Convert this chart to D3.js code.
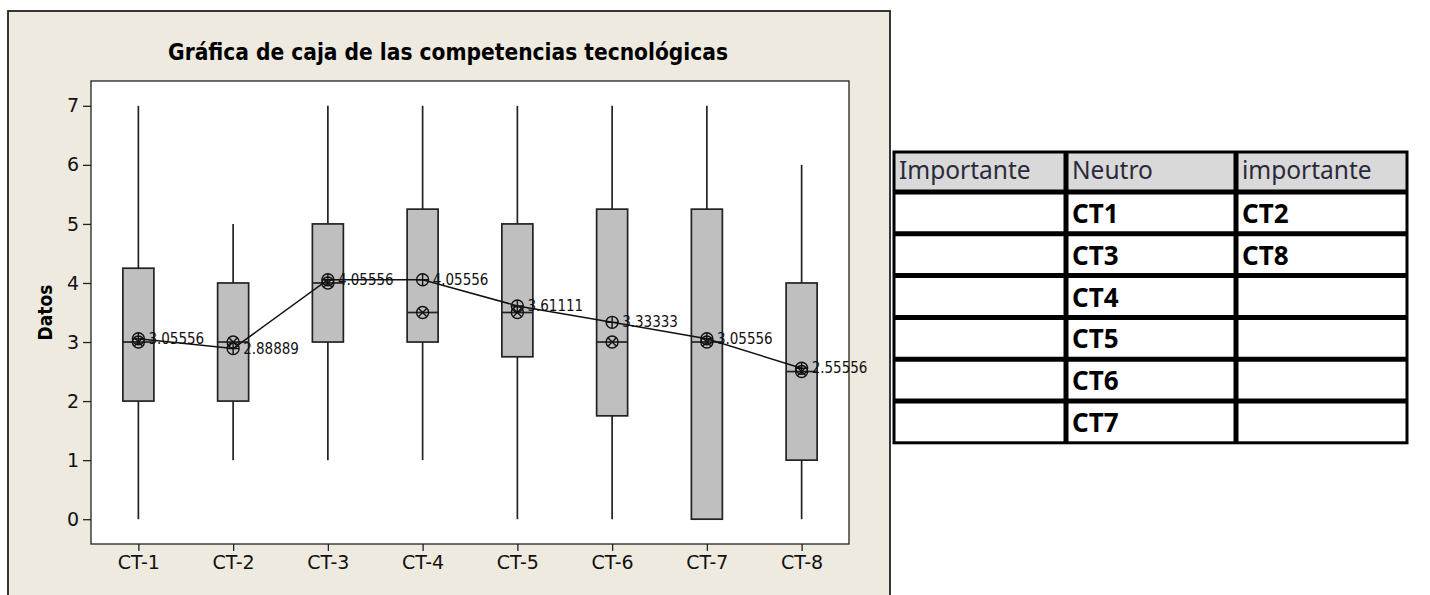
<!DOCTYPE html>
<html>
<head>
<meta charset="utf-8">
<script src="https://cdn.jsdelivr.net/npm/d3@7"></script>
<style>
  html, body { margin: 0; padding: 0; background: #ffffff; }
  svg { display: block; }
</style>
</head>
<body>
<svg id="chart" width="1430" height="595"></svg>
<script>
// Box plot data per technological competency
const categories = ["CT-1", "CT-2", "CT-3", "CT-4", "CT-5", "CT-6", "CT-7", "CT-8"];
const minVals    = [0, 1, 1, 1, 0, 0, 0, 0];
const q1Vals     = [2, 2, 3, 3, 2.75, 1.75, 0, 1];
const medianVals = [3, 3, 4, 3.5, 3.5, 3, 3, 2.5];
const q3Vals     = [4.25, 4, 5, 5.25, 5, 5.25, 5.25, 4];
const maxVals    = [7, 5, 7, 7, 7, 7, 7, 6];
const meanVals   = [3.05556, 2.88889, 4.05556, 4.05556, 3.61111, 3.33333, 3.05556, 2.55556];
const meanLabels = ["3.05556", "2.88889", "4.05556", "4.05556", "3.61111", "3.33333", "3.05556", "2.55556"];
const yTicks     = [0, 1, 2, 3, 4, 5, 6, 7];

// Classification table
const tableHeaders = ["Importante", "Neutro", "importante"];
const colImportante = ["", "", "", "", "", ""];
const colNeutro     = ["CT1", "CT3", "CT4", "CT5", "CT6", "CT7"];
const colImportante2 = ["CT2", "CT8", "", "", "", ""];

const svg = d3.select("#chart");
const chartFont = "'DejaVu Sans', Verdana, sans-serif";
const condFont = "'DejaVu Sans Condensed', 'DejaVu Sans', sans-serif";

// Outer frame
svg.append("rect")
  .attr("x", 8).attr("y", 11).attr("width", 882).attr("height", 600)
  .attr("fill", "#EEEAE0").attr("stroke", "#222").attr("stroke-width", 1.8);

const plot = { left: 91, top: 81, right: 849, bottom: 544 };

svg.append("text")
  .attr("x", 448).attr("y", 60)
  .attr("text-anchor", "middle")
  .attr("font-family", condFont).attr("font-weight", "bold").attr("font-size", 22.5)
  .attr("fill", "#000")
  .text("Gráfica de caja de las competencias tecnológicas");

svg.append("rect")
  .attr("x", plot.left).attr("y", plot.top)
  .attr("width", plot.right - plot.left).attr("height", plot.bottom - plot.top)
  .attr("fill", "#ffffff").attr("stroke", "#222").attr("stroke-width", 1.3);

const x = d3.scalePoint().domain(categories).range([plot.left, plot.right]).padding(0.5);
const y = d3.scaleLinear().domain([-0.42, 7.42]).range([plot.bottom, plot.top]);

// Axes
const yAxis = svg.append("g")
  .attr("transform", `translate(${plot.left},0)`)
  .call(d3.axisLeft(y).tickValues(yTicks).tickSize(8).tickPadding(4).tickFormat(d3.format("d")));
yAxis.select(".domain").remove();
yAxis.selectAll("text").attr("font-family", chartFont).attr("font-size", 19).attr("fill", "#111");
yAxis.selectAll("line").attr("stroke", "#222").attr("stroke-width", 1.3);

const xAxis = svg.append("g")
  .attr("transform", `translate(0,${plot.bottom})`)
  .call(d3.axisBottom(x).tickSize(7).tickPadding(5));
xAxis.select(".domain").remove();
xAxis.selectAll("text").attr("font-family", chartFont).attr("font-size", 19).attr("fill", "#111");
xAxis.selectAll("line").attr("stroke", "#222").attr("stroke-width", 1.3);

svg.append("text")
  .attr("transform", `translate(52,${(plot.top + plot.bottom) / 2}) rotate(-90)`)
  .attr("text-anchor", "middle")
  .attr("font-family", condFont).attr("font-weight", "bold").attr("font-size", 19)
  .text("Datos");

// Boxes
const boxW = 31;
const boxes = categories.map((c, i) => ({
  cat: c, min: minVals[i], q1: q1Vals[i], med: medianVals[i], q3: q3Vals[i], max: maxVals[i],
  mean: meanVals[i], label: meanLabels[i]
}));

const g = svg.append("g");
const sw = 1.7;
boxes.forEach(b => {
  const cx = x(b.cat);
  g.append("line").attr("x1", cx).attr("x2", cx).attr("y1", y(b.q3)).attr("y2", y(b.max))
    .attr("stroke", "#222").attr("stroke-width", sw);
  g.append("line").attr("x1", cx).attr("x2", cx).attr("y1", y(b.q1)).attr("y2", y(b.min))
    .attr("stroke", "#222").attr("stroke-width", sw);
  g.append("rect").attr("x", cx - boxW / 2).attr("y", y(b.q3))
    .attr("width", boxW).attr("height", Math.max(0, y(b.q1) - y(b.q3)))
    .attr("fill", "#BFBFBF").attr("stroke", "#222").attr("stroke-width", sw);
  g.append("line").attr("x1", cx - boxW / 2).attr("x2", cx + boxW / 2)
    .attr("y1", y(b.med)).attr("y2", y(b.med))
    .attr("stroke", "#222").attr("stroke-width", sw);
});

// Mean connect line
svg.append("path")
  .datum(boxes)
  .attr("d", d3.line().x(d => x(d.cat)).y(d => y(d.mean)))
  .attr("fill", "none").attr("stroke", "#111").attr("stroke-width", 1.5);

const r = 6;
// Median symbols (circle with cross)
boxes.forEach(b => {
  const cx = x(b.cat), cy = y(b.med);
  const k = r * Math.SQRT1_2;
  g.append("circle").attr("cx", cx).attr("cy", cy).attr("r", r)
    .attr("fill", "none").attr("stroke", "#111").attr("stroke-width", 1.4);
  g.append("path")
    .attr("d", `M${cx - k},${cy - k}L${cx + k},${cy + k}M${cx - k},${cy + k}L${cx + k},${cy - k}`)
    .attr("stroke", "#111").attr("stroke-width", 1.4);
});
// Mean symbols (circle with plus) and labels
boxes.forEach(b => {
  const cx = x(b.cat), cy = y(b.mean);
  svg.append("circle").attr("cx", cx).attr("cy", cy).attr("r", r)
    .attr("fill", "none").attr("stroke", "#111").attr("stroke-width", 1.4);
  svg.append("path")
    .attr("d", `M${cx - r},${cy}L${cx + r},${cy}M${cx},${cy - r}L${cx},${cy + r}`)
    .attr("stroke", "#111").attr("stroke-width", 1.4);
  svg.append("text")
    .attr("x", cx + 10).attr("y", cy + 5)
    .attr("font-family", condFont).attr("font-size", 15).attr("fill", "#111")
    .text(b.label);
});

// Classification table
const tbl = { left: 894, top: 152, colEdges: [894, 1066, 1236, 1407], headerH: 40, rowH: 41.8 };
const rows = colNeutro.map((d, i) => [colImportante[i], colNeutro[i], colImportante2[i]]);
const tg = svg.append("g");
const tableBottom = tbl.top + tbl.headerH + rows.length * tbl.rowH;

tg.append("rect")
  .attr("x", tbl.left).attr("y", tbl.top)
  .attr("width", tbl.colEdges[3] - tbl.left).attr("height", tbl.headerH)
  .attr("fill", "#D9D9D9");
tg.append("rect")
  .attr("x", tbl.left).attr("y", tbl.top).attr("width", tbl.colEdges[3] - tbl.left)
  .attr("height", tableBottom - tbl.top)
  .attr("fill", "none").attr("stroke", "#000").attr("stroke-width", 3);

// Horizontal separators
for (let i = 0; i <= rows.length - 1; i++) {
  const yy = tbl.top + tbl.headerH + i * tbl.rowH;
  tg.append("line").attr("x1", tbl.left).attr("x2", tbl.colEdges[3])
    .attr("y1", yy).attr("y2", yy).attr("stroke", "#000").attr("stroke-width", 5);
}
// Vertical separators
[tbl.colEdges[1], tbl.colEdges[2]].forEach(xx => {
  tg.append("line").attr("x1", xx).attr("x2", xx)
    .attr("y1", tbl.top).attr("y2", tableBottom)
    .attr("stroke", "#000").attr("stroke-width", 5);
});

tableHeaders.forEach((h, j) => {
  tg.append("text")
    .attr("x", tbl.colEdges[j] + (j === 0 ? 5 : 6)).attr("y", tbl.top + 27)
    .attr("font-family", "'Noto Sans', sans-serif").attr("font-size", 24.5).attr("fill", "#2a2a3a")
    .text(h);
});
rows.forEach((row, i) => {
  row.forEach((cell, j) => {
    if (!cell) return;
    tg.append("text")
      .attr("x", tbl.colEdges[j] + 6).attr("y", tbl.top + tbl.headerH + i * tbl.rowH + 31)
      .attr("font-family", "'Noto Sans', sans-serif").attr("font-weight", "bold")
      .attr("font-size", 26).attr("fill", "#000")
      .text(cell);
  });
});
</script>
</body>
</html>
